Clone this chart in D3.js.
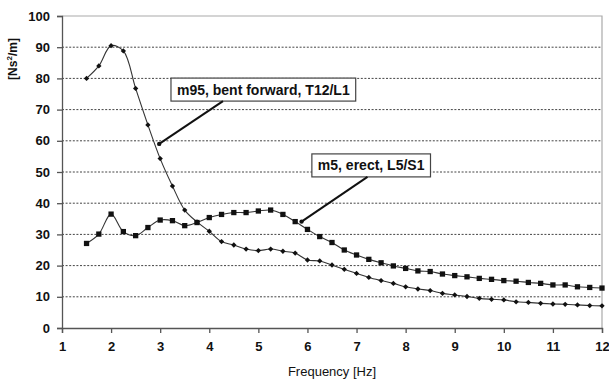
<!DOCTYPE html>
<html>
<head>
<meta charset="utf-8">
<script src="https://cdn.jsdelivr.net/npm/d3@7"></script>
<style>
  body { margin: 0; background: #fff; }
  text { font-family: "Liberation Sans", Arial, sans-serif; fill: #111; }
</style>
</head>
<body>
<svg id="chart" width="609" height="384"></svg>
<script>
// frequency steps [Hz]
const freqs = [1.5, 1.75, 2, 2.25, 2.5, 2.75, 3, 3.25, 3.5, 3.75, 4, 4.25, 4.5, 4.75,
  5, 5.25, 5.5, 5.75, 6, 6.25, 6.5, 6.75, 7, 7.25, 7.5, 7.75, 8, 8.25, 8.5, 8.75,
  9, 9.25, 9.5, 9.75, 10, 10.25, 10.5, 10.75, 11, 11.25, 11.5, 11.75, 12];

// m95, bent forward, T12/L1 (diamonds)
const m95 = [80, 84, 90.5, 88.8, 76.8, 65.1, 54.3, 45.5, 37.8, 34, 31, 27.7, 26.6, 25.3,
  24.8, 25.3, 24.6, 24.0, 21.8, 21.5, 20.2, 18.8, 17.5, 16.2, 15.2, 14.3, 13.2, 12.5, 12.0, 11.1,
  10.6, 10.1, 9.5, 9.2, 9.0, 8.4, 8.2, 7.9, 7.7, 7.6, 7.4, 7.2, 7.1];

// m5, erect, L5/S1 (squares)
const m5 = [27.1, 30.1, 36.5, 30.9, 29.6, 32.2, 34.6, 34.4, 32.8, 33.8, 35.4, 36.4, 37, 37,
  37.5, 37.8, 36.4, 34.1, 31.6, 29.3, 27.4, 25, 23.4, 22, 20.9, 19.9, 19.1, 18.3, 18.1, 17.3,
  16.8, 16.4, 15.9, 15.6, 15.2, 15.0, 14.6, 14.3, 13.8, 13.8, 13.2, 13.0, 12.8];

const xTicks = [1, 2, 3, 4, 5, 6, 7, 8, 9, 10, 11, 12];
const yTicks = [0, 10, 20, 30, 40, 50, 60, 70, 80, 90, 100];

// callout labels: box top-left and arrow tip, in data units
const labels = ["m95, bent forward, T12/L1", "m5, erect, L5/S1"];
const labelBox = [[3.22, 80.1], [6.09, 55.8]];
const labelTip = [[2.98, 59], [5.88, 34.1]];

const svg = d3.select("#chart");
const mLeft = 62, mRight = 602, mTop = 16, mBottom = 328;

const x = d3.scaleLinear().domain([1, 12]).range([mLeft, mRight]);
const y = d3.scaleLinear().domain([0, 100]).range([mBottom, mTop]);

// grid lines
svg.append("g")
  .selectAll("line")
  .data(yTicks.filter(d => d > 0 && d < 100))
  .enter()
  .append("line")
  .attr("x1", mLeft).attr("x2", mRight)
  .attr("y1", d => y(d)).attr("y2", d => y(d))
  .attr("stroke", "#444")
  .attr("stroke-width", 1)
  .attr("stroke-dasharray", "2,1.6");

// frame top/right
svg.append("path")
  .attr("d", `M${mLeft},${y(100)}H${mRight}V${mBottom}`)
  .attr("fill", "none")
  .attr("stroke", "#aaa")
  .attr("stroke-width", 1.2);

// axes
const yAxis = svg.append("g")
  .attr("transform", `translate(${mLeft},0)`)
  .call(d3.axisLeft(y).tickValues(yTicks).tickSize(5).tickPadding(7));
const xAxis = svg.append("g")
  .attr("transform", `translate(0,${mBottom})`)
  .call(d3.axisBottom(x).tickValues(xTicks).tickSize(5).tickPadding(9));

[yAxis, xAxis].forEach(a => {
  a.select(".domain").attr("stroke", "#555").attr("stroke-width", 1.3);
  a.selectAll(".tick line").attr("stroke", "#555").attr("stroke-width", 1.3);
  a.selectAll("text")
    .style("font-family", "'Liberation Sans', Arial, sans-serif")
    .style("font-size", "13px")
    .style("font-weight", "bold")
    .attr("fill", "#222");
});

// axis titles
svg.append("text")
  .attr("x", x(6.5)).attr("y", 376)
  .attr("text-anchor", "middle")
  .style("font-size", "13px")
  .text("Frequency [Hz]");

const yt = svg.append("text")
  .attr("transform", "translate(17,59) rotate(-90)")
  .attr("text-anchor", "middle")
  .style("font-size", "12px")
  .style("font-weight", "bold");
yt.append("tspan").text("[Ns");
yt.append("tspan").attr("dy", -5).style("font-size", "8px").text("2");
yt.append("tspan").attr("dy", 5).text("/m]");

// series lines
const line = d3.line()
  .x((d, i) => x(freqs[i]))
  .y(d => y(d))
  .curve(d3.curveCatmullRom.alpha(0.5));

svg.append("path")
  .attr("d", line(m95))
  .attr("fill", "none")
  .attr("stroke", "#333")
  .attr("stroke-width", 1.1);

svg.append("path")
  .attr("d", line(m5))
  .attr("fill", "none")
  .attr("stroke", "#333")
  .attr("stroke-width", 1.1);

// markers
svg.append("g")
  .selectAll("path")
  .data(m95)
  .enter()
  .append("path")
  .attr("transform", (d, i) => `translate(${x(freqs[i])},${y(d)})`)
  .attr("d", d3.symbol(d3.symbolDiamond2, 18))
  .attr("fill", "#111");

svg.append("g")
  .selectAll("path")
  .data(m5)
  .enter()
  .append("path")
  .attr("transform", (d, i) => `translate(${x(freqs[i])},${y(d)})`)
  .attr("d", d3.symbol(d3.symbolSquare, 28))
  .attr("fill", "#111");

// callouts
labels.forEach((t, i) => {
  const g = svg.append("g");
  const bx = x(labelBox[i][0]), by = y(labelBox[i][1]);
  const txt = g.append("text")
    .attr("x", bx + 6).attr("y", by + 16.5)
    .style("font-size", "14px")
    .style("font-weight", "bold")
    .text(t);
  const w = txt.node().getComputedTextLength() + 12;
  g.insert("rect", "text")
    .attr("x", bx).attr("y", by)
    .attr("width", w).attr("height", 23)
    .attr("fill", "#fff")
    .attr("stroke", "#444")
    .attr("stroke-width", 1.2);
  // leader line from box bottom toward the curve
  const sx = i === 0 ? bx + 52 : bx + w - 63;
  const sy = by + 23;
  const tx = x(labelTip[i][0]), ty = y(labelTip[i][1]);
  svg.append("line")
    .attr("x1", sx).attr("y1", sy)
    .attr("x2", tx).attr("y2", ty)
    .attr("stroke", "#111")
    .attr("stroke-width", 2);
  svg.append("circle")
    .attr("cx", tx).attr("cy", ty).attr("r", 2.2)
    .attr("fill", "#111");
});
</script>
</body>
</html>
